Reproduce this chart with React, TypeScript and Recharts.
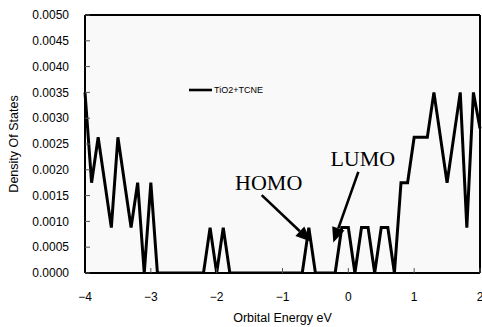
import React from 'react';
import {
  LineChart, Line, XAxis, YAxis, CartesianGrid, Legend, ReferenceLine, ReferenceDot, Label,
} from 'recharts';

// DOS vertices (energy in eV, density of states)
const energies = [
  -4.0, -3.9, -3.8, -3.6, -3.5, -3.3, -3.2, -3.1, -3.0, -2.9,
  -2.2, -2.1, -2.0, -1.9, -1.8, -0.7, -0.6, -0.5, -0.2, -0.1,
  0.0, 0.1, 0.2, 0.3, 0.4, 0.5, 0.6, 0.7, 0.8, 0.9,
  1.0, 1.2, 1.3, 1.5, 1.7, 1.8, 1.9, 2.0,
];
const dos = [
  0.0035, 0.00175, 0.00263, 0.00088, 0.00263, 0.00088, 0.00175, 0, 0.00175, 0,
  0, 0.00088, 0, 0.00088, 0, 0, 0.00088, 0, 0, 0.00088,
  0.00088, 0, 0.00088, 0.00088, 0, 0.00088, 0.00088, 0, 0.00175, 0.00175,
  0.00263, 0.00263, 0.0035, 0.00175, 0.0035, 0.00088, 0.0035, 0.0028,
];
const xTicks = [-4, -3, -2, -1, 0, 1, 2];
const yTicks = [0, 0.0005, 0.001, 0.0015, 0.002, 0.0025, 0.003, 0.0035, 0.004, 0.0045, 0.005];
const seriesName = 'TiO2+TCNE';

// annotations: label anchor and arrow [start, tip], in data units
const homoLabel = { x: -1.21, y: 0.00161, text: 'HOMO' };
const lumoLabel = { x: 0.22, y: 0.00207, text: 'LUMO' };
const homoArrow = [{ x: -1.316, y: 0.00151 }, { x: -0.571, y: 0.00061 }];
const lumoArrow = [{ x: 0.152, y: 0.00196 }, { x: -0.228, y: 0.00059 }];

const data = energies.map((e, i) => ({ e, dos: dos[i] }));

const sans = '"Liberation Sans", Arial, sans-serif';

const fmtX = (v: number) => (v < 0 ? '\u2212' + Math.abs(v) : String(v));

const Arrow = (props: any) => {
  const { x1, y1, x2, y2 } = props;
  const a = Math.atan2(y2 - y1, x2 - x1);
  const len = 15;
  const half = 6.5;
  const bx = x2 - len * Math.cos(a);
  const by = y2 - len * Math.sin(a);
  const px = -Math.sin(a) * half;
  const py = Math.cos(a) * half;
  return (
    <g>
      <line x1={x1} y1={y1} x2={bx} y2={by} stroke="#000" strokeWidth={2.6} />
      <polygon points={`${x2},${y2} ${bx + px},${by + py} ${bx - px},${by - py}`} fill="#000" />
    </g>
  );
};

const TextMark = (text: string) => (props: any) => (
  <text
    x={props.cx}
    y={props.cy}
    textAnchor="middle"
    fontFamily='"Liberation Serif", "Times New Roman", serif'
    fontSize={22}
    fill="#000"
  >
    {text}
  </text>
);

const LegendBox = () => (
  <div style={{ display: 'flex', alignItems: 'center', fontFamily: sans, fontSize: 9, color: '#000', whiteSpace: 'nowrap' }}>
    <svg width={24} height={6} style={{ marginRight: 1 }}>
      <line x1={0} y1={3} x2={23} y2={3} stroke="#000" strokeWidth={2.6} />
    </svg>
    <span>{seriesName}</span>
  </div>
);

const App: React.FC = () => {
  return (
    <div style={{ width: 482, height: 327, background: '#fff' }}>
      <style>{'body{margin:0}'}</style>
      <LineChart width={482} height={327} data={data} margin={{ top: 15, right: 2, bottom: 0, left: 0 }}>
        <CartesianGrid horizontal={false} vertical={false} fill="#f9f9f9" />
        <XAxis
          dataKey="e"
          type="number"
          domain={[-4, 2]}
          ticks={xTicks}
          tickFormatter={fmtX}
          height={54}
          tickSize={-5}
          tickMargin={24}
          axisLine={{ stroke: '#000', strokeWidth: 2 }}
          tickLine={{ stroke: '#555' }}
          tick={{ fill: '#000', fontSize: 12, fontFamily: sans }}
          interval={0}
        >
          <Label value="Orbital Energy eV" position="insideBottom" offset={5} fill="#000" fontSize={12.5} fontFamily={sans} />
        </XAxis>
        <YAxis
          type="number"
          domain={[0, 0.005]}
          ticks={yTicks}
          tickFormatter={(v: number) => v.toFixed(4)}
          width={85}
          tickSize={-5}
          tickMargin={21}
          axisLine={{ stroke: '#000', strokeWidth: 2 }}
          tickLine={{ stroke: '#555' }}
          tick={{ fill: '#000', fontSize: 12, fontFamily: sans }}
          interval={0}
          allowDataOverflow
        >
          <Label
            content={({ viewBox }: any) => (
              <text
                x={viewBox.x + 14}
                y={viewBox.y + viewBox.height / 2}
                transform={`rotate(-90 ${viewBox.x + 14} ${viewBox.y + viewBox.height / 2})`}
                textAnchor="middle"
                dominantBaseline="central"
                fontSize={12.5}
                fontFamily={sans}
                fill="#000"
              >
                Density Of States
              </text>
            )}
          />
        </YAxis>
        <ReferenceLine y={0.005} stroke="#000" strokeWidth={2} />
        <ReferenceLine x={2} stroke="#000" strokeWidth={2} />
        <Legend
          layout="horizontal"
          verticalAlign="middle"
          align="center"
          content={<LegendBox />}
          wrapperStyle={{ top: 85, left: 189, width: 'auto', bottom: 'auto' }}
        />
        <Line
          dataKey="dos"
          name={seriesName}
          type="linear"
          stroke="#000"
          strokeWidth={3}
          dot={false}
          isAnimationActive={false}
        />
        <ReferenceLine segment={homoArrow} shape={Arrow} ifOverflow="visible" />
        <ReferenceLine segment={lumoArrow} shape={Arrow} ifOverflow="visible" />
        <ReferenceDot x={homoLabel.x} y={homoLabel.y} r={0} shape={TextMark(homoLabel.text)} ifOverflow="visible" />
        <ReferenceDot x={lumoLabel.x} y={lumoLabel.y} r={0} shape={TextMark(lumoLabel.text)} ifOverflow="visible" />
      </LineChart>
    </div>
  );
};

export default App;
